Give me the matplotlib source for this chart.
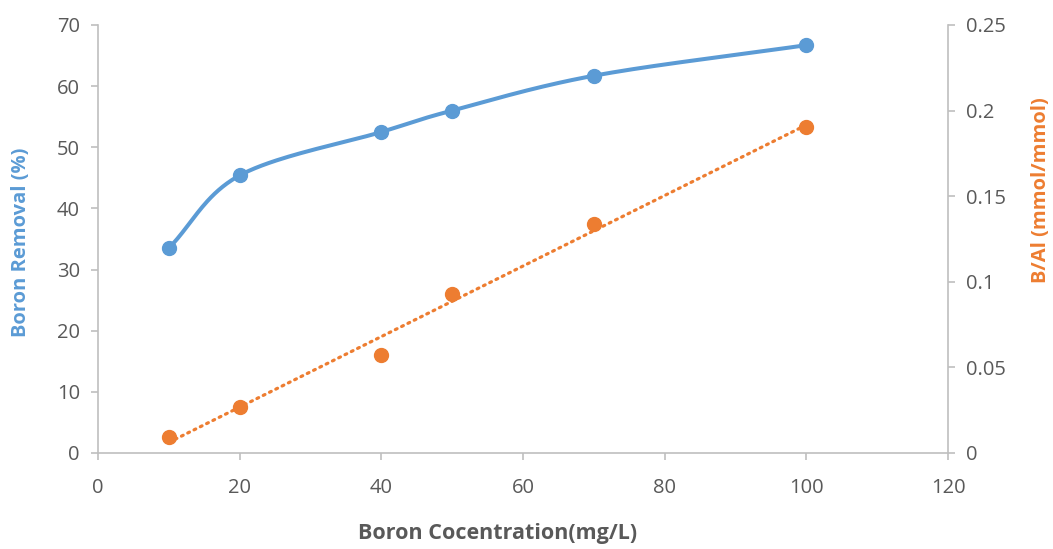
import numpy as np
import matplotlib.pyplot as plt

plt.rcParams['font.family'] = ['Open Sans', 'DejaVu Sans']

# boron concentration (mg/L)
conc = [10, 20, 40, 50, 70, 100]
# boron removal (%)
removal = [33.5, 45.4, 52.5, 56.0, 61.7, 66.7]
# B/Al molar ratio (mmol/mmol)
ratio = [0.0095, 0.027, 0.057, 0.093, 0.134, 0.1905]

x_ticks = [0, 20, 40, 60, 80, 100, 120]
left_ticks = [0, 10, 20, 30, 40, 50, 60, 70]
right_ticks = [0, 0.05, 0.1, 0.15, 0.2, 0.25]
right_labels = ['0', '0.05', '0.1', '0.15', '0.2', '0.25']

BLUE = '#5B9BD5'
ORANGE = '#ED7D31'
GREY = '#595959'
SPINE = '#BFBFBF'


def smooth(xs, ys, xr, yr, n=40):
    # Catmull-Rom through the points, worked out in axis-fraction space
    px = np.asarray(xs, float) / xr
    py = np.asarray(ys, float) / yr * 0.5
    pts = np.column_stack([px, py])
    pts = np.vstack([2 * pts[0] - pts[1], pts, 2 * pts[-1] - pts[-2]])
    out = []
    for i in range(1, len(pts) - 2):
        p0, p1, p2, p3 = pts[i - 1], pts[i], pts[i + 1], pts[i + 2]
        t = np.linspace(0, 1, n)[:, None]
        seg = 0.5 * ((2 * p1) + (-p0 + p2) * t
                     + (2 * p0 - 5 * p1 + 4 * p2 - p3) * t ** 2
                     + (-p0 + 3 * p1 - 3 * p2 + p3) * t ** 3)
        out.append(seg)
    out = np.vstack(out)
    return out[:, 0] * xr, out[:, 1] / 0.5 * yr


fig = plt.figure(figsize=(10.53, 5.49), dpi=100)
ax = fig.add_axes([0.0931, 0.1749, 0.8072, 0.7796])
ax2 = ax.twinx()

sx, sy = smooth(conc, removal, 120, 70)
ax.plot(sx, sy, color=BLUE, lw=2.9, solid_capstyle='round', zorder=3)
ax.plot(conc, removal, 'o', color=BLUE, ms=10, zorder=4)

# linear trendline for the ratio
k, b = np.polyfit(conc, ratio, 1)
tx = np.array([conc[0], conc[-1]])
ax2.plot(tx, k * tx + b, color=ORANGE, lw=2.3, linestyle=(0, (0.6, 1.6)),
         dash_capstyle='round', zorder=3)
ax2.plot(conc, ratio, 'o', color=ORANGE, ms=10, zorder=4)

ax.set_xlim(0, 120)
ax.set_ylim(0, 70)
ax2.set_ylim(0, 0.25)
ax.set_xticks(x_ticks)
ax.set_yticks(left_ticks)
ax2.set_yticks(right_ticks)
ax2.set_yticklabels(right_labels)

for a in (ax, ax2):
    for s in a.spines.values():
        s.set_visible(False)
    a.tick_params(colors=SPINE, labelcolor=GREY, labelsize=14.5, length=5,
                  width=1.2)
ax.spines['left'].set_visible(True)
ax.spines['bottom'].set_visible(True)
ax2.spines['right'].set_visible(True)
for s in (ax.spines['left'], ax.spines['bottom'], ax2.spines['right']):
    s.set_color(SPINE)
    s.set_linewidth(1.2)
ax.tick_params(axis='x', pad=13)
ax.tick_params(axis='y', pad=8)
ax2.tick_params(axis='y', pad=8)

ax.set_xlabel('Boron Cocentration(mg/L)', color=GREY, fontsize=15.5,
              fontweight='bold')
ax.xaxis.set_label_coords(0.47, -0.163)
ax.set_ylabel('Boron Removal (%)', color=BLUE, fontsize=14.5,
              fontweight='bold')
ax.yaxis.set_label_coords(-0.079, 0.493)
ax2.set_ylabel('B/Al (mmol/mmol)', color=ORANGE, fontsize=14.5,
               fontweight='bold', rotation=90)
ax2.yaxis.set_label_coords(1.098, 0.614)

fig.savefig('out.png', dpi=100)
